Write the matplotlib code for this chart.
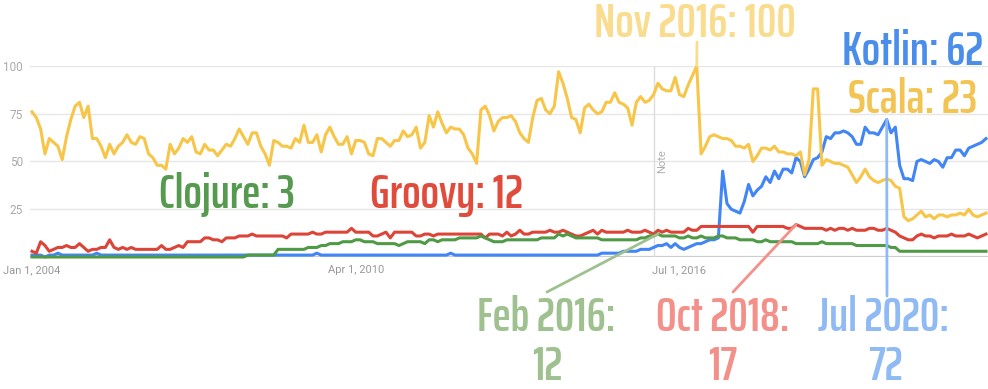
import numpy as np
import matplotlib
matplotlib.use("Agg")
import matplotlib.pyplot as plt
from matplotlib import font_manager as fm
from matplotlib.textpath import TextPath

# Google Trends interest over time, monthly from Jan 2004
start_year = 2004

scala = [
    76, 73, 67, 54, 62, 60, 58, 51, 63, 72,
    79, 81, 73, 79, 62, 62, 58, 52, 59, 54,
    58, 60, 64, 60, 59, 63, 62, 54, 52, 48,
    48, 46, 59, 54, 57, 62, 60, 63, 55, 54,
    59, 56, 56, 53, 56, 59, 58, 62, 67, 63,
    59, 65, 65, 58, 54, 48, 61, 60, 58, 58,
    57, 62, 60, 69, 60, 60, 64, 55, 64, 68,
    63, 59, 59, 63, 54, 61, 61, 60, 54, 53,
    62, 62, 60, 58, 61, 61, 66, 63, 64, 68,
    57, 60, 74, 68, 76, 70, 65, 68, 67, 67,
    64, 57, 54, 49, 77, 79, 74, 66, 71, 73,
    73, 74, 71, 65, 62, 60, 73, 82, 83, 77,
    75, 79, 97, 91, 83, 73, 72, 65, 78, 80,
    77, 75, 76, 81, 81, 86, 81, 80, 78, 69,
    81, 84, 81, 82, 85, 91, 88, 87, 87, 94,
    85, 84, 90, 95, 100, 54, 58, 63, 64, 63,
    62, 62, 61, 58, 58, 57, 59, 50, 53, 57,
    57, 56, 58, 55, 55, 54, 54, 53, 55, 43,
    51, 88, 88, 48, 51, 50, 49, 49, 48, 47,
    43, 39, 42, 46, 42, 40, 39, 40, 41, 40,
    37, 36, 21, 19, 20, 22, 24, 21, 22, 20,
    22, 22, 21, 22, 22, 23, 22, 25, 22, 21,
    22, 23,
]

kotlin = [
    1, 1, 1, 0, 1, 1, 2, 1, 1, 1,
    1, 1, 1, 1, 1, 2, 1, 1, 1, 1,
    1, 1, 1, 1, 1, 1, 1, 1, 1, 1,
    1, 1, 1, 1, 1, 1, 1, 1, 1, 1,
    1, 1, 1, 1, 1, 1, 1, 1, 1, 1,
    1, 1, 1, 1, 1, 1, 1, 1, 1, 1,
    1, 1, 1, 1, 1, 1, 2, 1, 1, 1,
    1, 1, 1, 1, 1, 1, 1, 1, 1, 1,
    1, 1, 1, 1, 1, 1, 1, 1, 1, 1,
    1, 1, 1, 1, 1, 1, 1, 2, 1, 1,
    1, 1, 1, 1, 1, 1, 1, 1, 1, 1,
    1, 1, 1, 1, 1, 1, 1, 1, 1, 1,
    1, 1, 1, 1, 1, 1, 1, 1, 1, 1,
    1, 1, 2, 2, 2, 2, 2, 3, 3, 3,
    3, 4, 4, 4, 5, 6, 6, 7, 5, 7,
    5, 4, 5, 6, 7, 7, 8, 9, 9, 10,
    45, 28, 25, 24, 23, 29, 38, 32, 35, 37,
    42, 39, 45, 41, 46, 46, 44, 52, 50, 42,
    46, 51, 52, 55, 63, 62, 65, 65, 66, 65,
    63, 59, 59, 68, 65, 65, 64, 68, 72, 65,
    68, 48, 41, 41, 40, 50, 51, 50, 49, 51,
    50, 47, 52, 52, 56, 56, 53, 57, 58, 59,
    60, 62,
]

groovy = [
    3, 2, 8, 6, 3, 4, 5, 5, 6, 5,
    5, 7, 5, 3, 4, 4, 5, 5, 9, 5,
    4, 5, 4, 5, 4, 4, 4, 4, 4, 4,
    6, 4, 4, 5, 6, 5, 8, 8, 8, 8,
    10, 10, 9, 9, 8, 10, 10, 10, 11, 11,
    11, 12, 11, 11, 11, 11, 11, 11, 11, 10,
    12, 12, 12, 12, 12, 13, 12, 12, 13, 13,
    13, 13, 13, 13, 15, 13, 13, 13, 13, 11,
    11, 12, 13, 10, 13, 13, 13, 13, 13, 11,
    11, 12, 12, 11, 12, 12, 12, 12, 12, 12,
    12, 12, 12, 12, 12, 10, 12, 12, 12, 11,
    13, 11, 12, 14, 12, 12, 13, 13, 13, 13,
    14, 13, 13, 14, 13, 12, 11, 11, 12, 13,
    14, 12, 14, 13, 13, 13, 13, 13, 14, 13,
    13, 13, 14, 13, 12, 14, 13, 14, 13, 13,
    13, 13, 15, 14, 14, 16, 16, 16, 16, 16,
    16, 16, 16, 16, 16, 16, 16, 13, 16, 16,
    16, 16, 16, 16, 16, 15, 15, 17, 16, 15,
    15, 15, 15, 15, 14, 15, 14, 15, 15, 14,
    15, 14, 14, 14, 15, 15, 14, 14, 15, 14,
    13, 11, 10, 9, 9, 11, 12, 11, 11, 10,
    11, 11, 11, 12, 11, 11, 11, 12, 11, 10,
    11, 12,
]

clojure = [
    0, 0, 0, 0, 0, 0, 0, 0, 0, 0,
    0, 0, 0, 0, 0, 0, 0, 0, 0, 0,
    0, 0, 0, 0, 0, 0, 0, 0, 0, 0,
    0, 0, 0, 0, 0, 0, 0, 0, 0, 0,
    0, 0, 0, 0, 0, 0, 0, 0, 0, 0,
    1, 1, 1, 1, 1, 1, 1, 4, 4, 4,
    4, 4, 4, 4, 5, 5, 5, 6, 6, 7,
    7, 7, 8, 8, 8, 9, 9, 8, 8, 8,
    7, 7, 7, 7, 7, 6, 7, 8, 8, 8,
    8, 7, 9, 9, 8, 9, 9, 9, 9, 10,
    10, 10, 10, 10, 11, 10, 9, 8, 8, 8,
    9, 9, 9, 9, 9, 9, 9, 9, 10, 10,
    10, 10, 12, 11, 12, 11, 10, 10, 10, 10,
    10, 10, 9, 9, 9, 9, 9, 9, 9, 9,
    9, 10, 10, 11, 11, 12, 11, 11, 11, 11,
    10, 10, 11, 10, 10, 11, 10, 10, 10, 11,
    11, 10, 10, 10, 9, 9, 9, 9, 8, 8,
    9, 8, 8, 8, 8, 8, 8, 7, 7, 7,
    7, 7, 7, 8, 7, 7, 7, 7, 7, 7,
    7, 6, 6, 6, 6, 6, 6, 6, 6, 5,
    5, 3, 3, 3, 3, 3, 3, 3, 3, 3,
    3, 3, 3, 3, 3, 3, 3, 3, 3, 3,
    3, 3,
]

tick_pos = [2004.0, 2010.25, 2016.5]
tick_labels = ["Jan 1, 2004", "Apr 1, 2010", "Jul 1, 2016"]

# highlighted points: (decimal year, value)
feb2016 = (2016 + 1 / 12, 12)
oct2018 = (2018 + 9 / 12, 17)
jul2020 = (2020 + 6 / 12, 72)
nov2016 = (2016 + 10 / 12, 100)

BLUE, RED, YELLOW, GREEN = "#4285f4", "#db4437", "#f7c548", "#4f9a45"
L_GREEN, L_RED, L_BLUE, L_YELLOW = "#9ec18f", "#f4908a", "#8fbaf3", "#f9dc8e"


def pick_font(cands):
    for c in cands:
        try:
            fm.findfont(fm.FontProperties(family=c), fallback_to_default=False)
            return c
        except ValueError:
            pass
    return "DejaVu Sans"


def weight_num(w):
    if isinstance(w, int):
        return w
    return {"bold": 700, "semibold": 600, "demibold": 600, "heavy": 800,
            "extra bold": 800, "black": 900}.get(str(w).lower(), 400)


ALLOWED = ("Roboto", "Lato", "Liberation Sans", "Noto Sans", "Open Sans", "Inter",
           "DejaVu Sans", "Oswald", "Bebas", "Fjalla", "Narrow", "Condensed")


def narrowest_bold():
    # the original uses a tall condensed sans; take the plain bold sans face
    # that is narrowest relative to its cap height
    best_fp, best_r = None, None
    seen = set()
    for f in fm.fontManager.ttflist:
        if f.style != "normal" or not (600 <= weight_num(f.weight) <= 800):
            continue
        if not any(a in f.name for a in ALLOWED):
            continue
        if "Mono" in f.name or "CJK" in f.name or "Serif" in f.name:
            continue
        if f.fname in seen:
            continue
        seen.add(f.fname)
        try:
            fp = fm.FontProperties(fname=f.fname)
            wd = TextPath((0, 0), "Kotlin: 62", size=100, prop=fp).get_extents().width
            ch = TextPath((0, 0), "H", size=100, prop=fp).get_extents().height
            xh = TextPath((0, 0), "x", size=100, prop=fp).get_extents().height
        except Exception:
            continue
        if ch <= 0 or wd <= 0 or xh / ch > 0.8:
            continue
        r = wd / ch
        if best_r is None or r < best_r:
            best_fp, best_r = fp, r
    if best_fp is None:
        best_fp = fm.FontProperties(family="DejaVu Sans", weight="bold")
    return best_fp


big_fp = narrowest_bold()
small_font = pick_font(["Roboto", "DejaVu Sans"])

x = start_year + np.arange(len(scala)) / 12

W, H = 988, 389
fig = plt.figure(figsize=(W / 100, H / 100), dpi=100)
ax = fig.add_axes([30 / W, (H - 257) / H, 958 / W, 191 / H])

px_per_year = 51.8
ax.set_xlim(2004 - 2 / px_per_year, 2004 + 956 / px_per_year)
ax.set_ylim(0, 100)

for s in ax.spines.values():
    s.set_visible(False)

ax.set_yticks([25, 50, 75, 100])
ax.set_yticklabels(["25", "50", "75", "100"], fontsize=8.5, color="#aaaaaa",
                   family=small_font)
ax.set_xticks(tick_pos)
ax.set_xticklabels(tick_labels, fontsize=8, color="#999999", family=small_font)
ax.tick_params(length=0)
ax.tick_params(axis="y", pad=5)
ax.tick_params(axis="x", pad=6)
ax.grid(axis="y", color="#e6e6e6", lw=1)
ax.set_axisbelow(True)
ax.axhline(0, color="#cccccc", lw=1.6, zorder=1)

# note marker
ax.axvline(2016.0, color="#dddddd", lw=1, zorder=1)
ax.text(2016.0 + 9 / px_per_year, 50, "Note", rotation=90, ha="center", va="center",
        fontsize=8, color="#b0b0b0", family=small_font)

lw = 2.2
ax.plot(x, kotlin, color=BLUE, lw=lw, clip_on=False, zorder=3, solid_joinstyle="round")
ax.plot(x, groovy, color=RED, lw=lw, clip_on=False, zorder=3, solid_joinstyle="round")
ax.plot(x, scala, color=YELLOW, lw=lw, clip_on=False, zorder=3, solid_joinstyle="round")
ax.plot(x, clojure, color=GREEN, lw=lw, clip_on=False, zorder=3, solid_joinstyle="round")


def connector(pt, start_px, color):
    ax.annotate("", xy=pt, xycoords="data",
                xytext=(start_px[0], H - start_px[1]), textcoords="figure pixels",
                arrowprops=dict(arrowstyle="-", color=color, lw=2,
                                shrinkA=0, shrinkB=0),
                annotation_clip=False, zorder=5)


connector(feb2016, (547, 292), L_GREEN)
connector(oct2018, (733, 292), L_RED)
connector(jul2020, (887, 296), L_BLUE)
connector(nov2016, (697, 42), L_YELLOW)

# labels: centre x, centre y (image pixels), text, colour, width in the original
labels = [
    (695, 20, "Nov 2016: 100", L_YELLOW, 195),
    (913, 48, "Kotlin: 62", "#4a8deb", 130),
    (913, 96, "Scala: 23", "#f2c453", 130),
    (227, 191, "Clojure: 3", "#559a4e", 133),
    (446, 191, "Groovy: 12", "#e04b3c", 148),
    (546, 314, "Feb 2016:", L_GREEN, 136),
    (547, 363, str(feb2016[1]), L_GREEN, None),
    (723, 314, "Oct 2018:", L_RED, 130),
    (723, 363, str(oct2018[1]), L_RED, None),
    (884, 314, "Jul 2020:", L_BLUE, 128),
    (885, 363, str(jul2020[1]), L_BLUE, None),
]

px_per_pt = 100 / 72
ratios = []
for _, _, txt, _, tw in labels:
    if tw:
        w1 = TextPath((0, 0), txt, size=1, prop=big_fp).get_extents().width * px_per_pt
        ratios.append(tw / w1)
size = float(np.median(ratios))
cap_px = TextPath((0, 0), "H", size=size, prop=big_fp).get_extents().height * px_per_pt

for cx, cy, txt, col, _ in labels:
    fig.text(cx / W, (H - (cy + cap_px / 2)) / H, txt, ha="center", va="baseline",
             fontproperties=big_fp, fontsize=size, color=col)

fig.savefig("out.png", dpi=100)
